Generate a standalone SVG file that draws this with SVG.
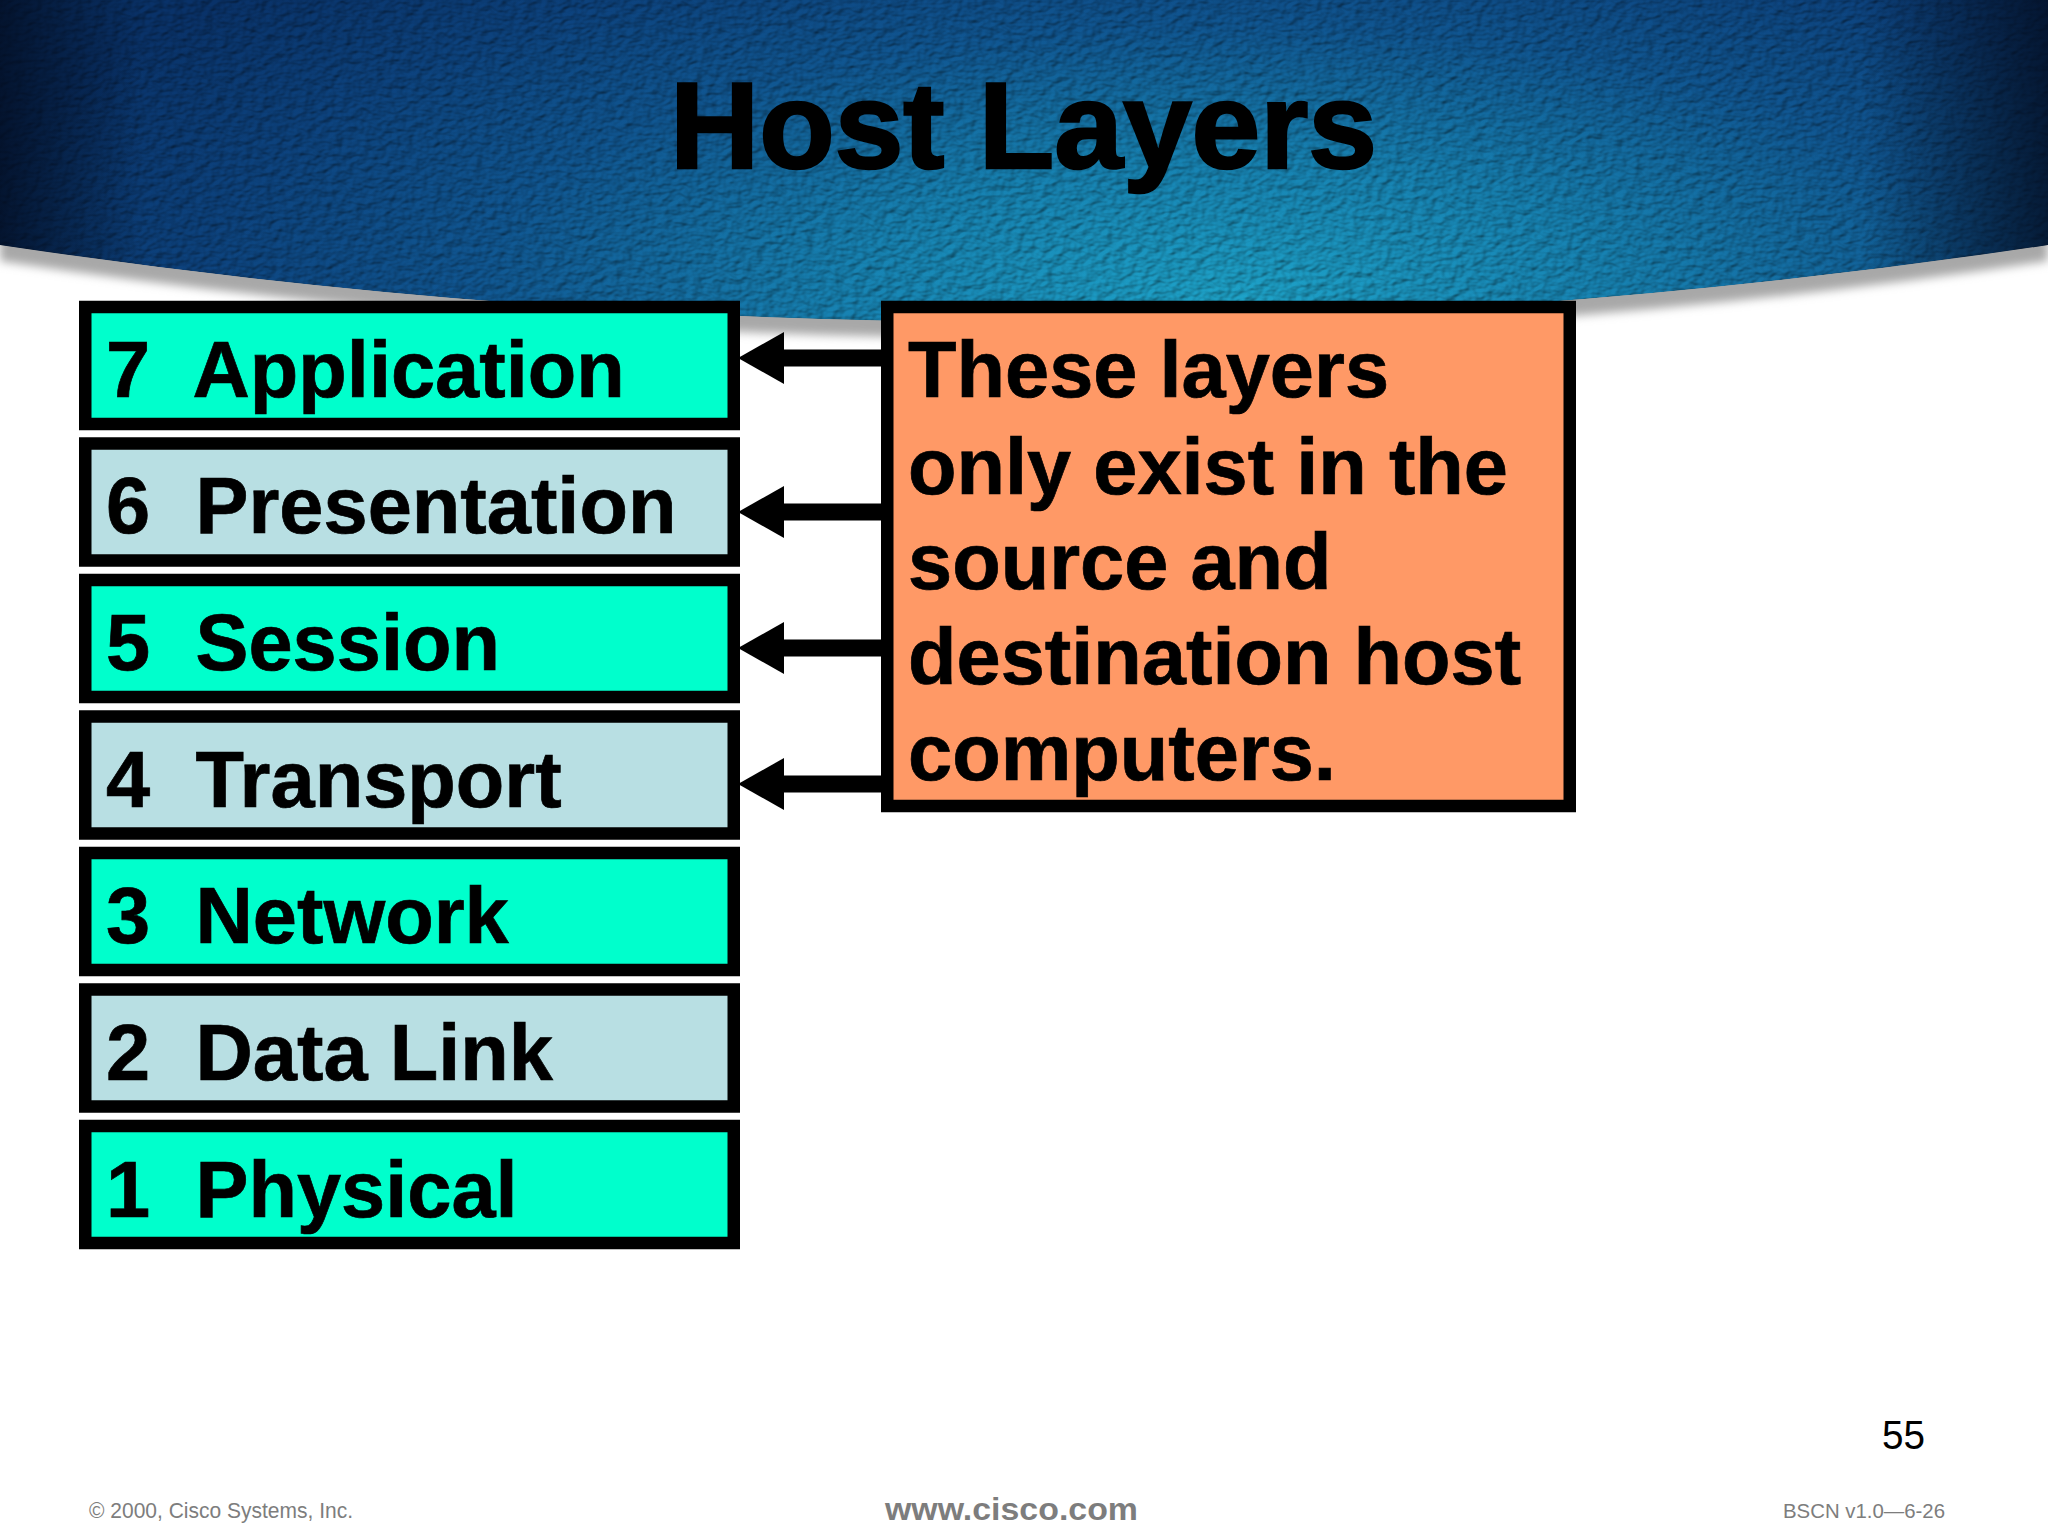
<svg xmlns="http://www.w3.org/2000/svg" width="2048" height="1536" viewBox="0 0 2048 1536">
<style>
.t{font-family:"Liberation Sans",Arial,sans-serif;font-weight:700;font-size:79.4px;fill:#000;stroke:#000;stroke-width:.7}
.box{stroke:#000;stroke-width:12.5}
.a{fill:#00ffcc}
.b{fill:#b8dfe3}
.conn{stroke:#000;stroke-width:17;fill:none;marker-end:url(#head)}
.foot{font-family:"Liberation Sans",Arial,sans-serif;fill:#7d7d7d}
</style>
<defs>
<radialGradient id="bg" gradientUnits="userSpaceOnUse" cx="0" cy="0" r="1" gradientTransform="translate(1230 300) scale(1300 470)">
<stop offset="0" stop-color="#1a8fb0"/>
<stop offset=".3" stop-color="#14729c"/>
<stop offset=".58" stop-color="#0e4c80"/>
<stop offset=".8" stop-color="#0b3a6e"/>
<stop offset="1" stop-color="#082c5c"/>
</radialGradient>
<linearGradient id="vig">
<stop offset="0" stop-color="#020a1c" stop-opacity=".75"/>
<stop offset=".07" stop-color="#020a1c" stop-opacity="0"/>
<stop offset=".91" stop-color="#020a1c" stop-opacity="0"/>
<stop offset="1" stop-color="#020a1c" stop-opacity=".75"/>
</linearGradient>
<filter id="tex" x="0" y="0" width="100%" height="100%" color-interpolation-filters="sRGB">
<feTurbulence type="fractalNoise" baseFrequency=".1 .16" numOctaves="2" seed="4" result="n"/>
<feDiffuseLighting in="n" surfaceScale="1.6" diffuseConstant="1.05" lighting-color="#fff" result="l"><feDistantLight azimuth="225" elevation="60"/></feDiffuseLighting>
<feComposite in="SourceGraphic" in2="l" operator="arithmetic" k1="1.14" k2="0" k3="0" k4="0" result="m"/>
<feComposite in="m" in2="SourceAlpha" operator="in"/>
</filter>
<filter id="soft" x="-2%" y="-5%" width="104%" height="115%"><feGaussianBlur stdDeviation="5"/></filter>
<marker id="head" markerUnits="userSpaceOnUse" viewBox="0 0 46 52" markerWidth="46" markerHeight="52" refX="0" refY="26" orient="auto"><path d="M0 0L46 26L0 52Z" fill="#000"/></marker>
</defs>
<rect width="2048" height="1536" fill="#fff"/>
<path d="M0 0H2048V261Q1024 415 0 261Z" fill="#a8a8a8" filter="url(#soft)"/>
<path d="M0 0H2048V245Q1024 399 0 245Z" fill="url(#bg)" filter="url(#tex)"/>
<path d="M0 0H2048V245Q1024 399 0 245Z" fill="url(#vig)"/>
<text id="title" x="670" y="168" font-family="'Liberation Sans',Arial,sans-serif" font-weight="700" font-size="122" textLength="707" lengthAdjust="spacingAndGlyphs" stroke="#000" stroke-width="2.5">Host Layers</text>
<g id="connectors">
<line class="conn" x1="881" y1="358" x2="784" y2="358"/>
<line class="conn" x1="881" y1="512" x2="784" y2="512"/>
<line class="conn" x1="881" y1="648" x2="784" y2="648"/>
<line class="conn" x1="881" y1="784" x2="784" y2="784"/>
</g>
<g id="layer7"><rect class="box a" x="85.25" y="307" width="648.5" height="117"/><text class="t" y="397"><tspan x="106">7</tspan><tspan x="192.5">Application</tspan></text></g>
<g id="layer6"><rect class="box b" x="85.25" y="443.5" width="648.5" height="117"/><text class="t" y="533"><tspan x="106">6</tspan><tspan x="195.5">Presentation</tspan></text></g>
<g id="layer5"><rect class="box a" x="85.25" y="580" width="648.5" height="117"/><text class="t" y="670"><tspan x="106">5</tspan><tspan x="195.5">Session</tspan></text></g>
<g id="layer4"><rect class="box b" x="85.25" y="716.5" width="648.5" height="117"/><text class="t" y="807"><tspan x="106">4</tspan><tspan x="195.5">Transport</tspan></text></g>
<g id="layer3"><rect class="box a" x="85.25" y="853" width="648.5" height="117"/><text class="t" y="943"><tspan x="106">3</tspan><tspan x="195.5">Network</tspan></text></g>
<g id="layer2"><rect class="box b" x="85.25" y="989.5" width="648.5" height="117"/><text class="t" y="1080"><tspan x="106">2</tspan><tspan x="195.5">Data Link</tspan></text></g>
<g id="layer1"><rect class="box a" x="85.25" y="1126" width="648.5" height="117"/><text class="t" y="1217"><tspan x="106">1</tspan><tspan x="195.5">Physical</tspan></text></g>
<g id="note"><rect class="box" fill="#ff9966" x="887.25" y="307" width="682.5" height="499"/>
<text class="t"><tspan x="908" y="397">These layers</tspan><tspan x="908" y="494">only exist in the</tspan><tspan x="908" y="589">source and</tspan><tspan x="908" y="684">destination host</tspan><tspan x="908" y="780">computers.</tspan></text></g>
<text id="page" x="1882" y="1449" font-family="'Liberation Sans',Arial,sans-serif" font-size="41" textLength="43" lengthAdjust="spacingAndGlyphs">55</text>
<text class="foot" x="89" y="1518" font-size="22" textLength="264" lengthAdjust="spacingAndGlyphs">© 2000, Cisco Systems, Inc.</text>
<text class="foot" x="885" y="1520" font-size="31" font-weight="700" textLength="253" lengthAdjust="spacingAndGlyphs">www.cisco.com</text>
<text class="foot" x="1783" y="1518" font-size="21" textLength="162" lengthAdjust="spacingAndGlyphs">BSCN v1.0—6-26</text>
</svg>
